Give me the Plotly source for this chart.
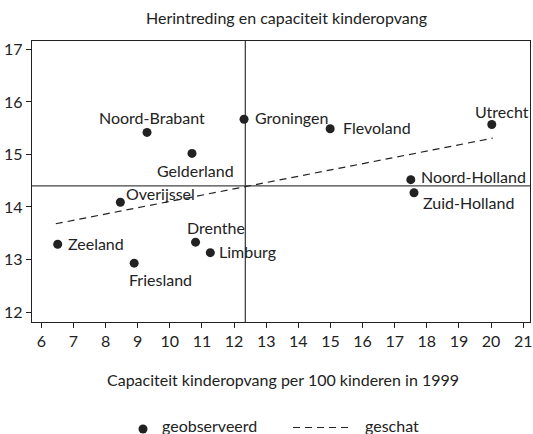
import plotly.graph_objects as go

# ---- data ----
provincies = ["Noord-Brabant", "Gelderland", "Groningen", "Flevoland", "Utrecht",
              "Noord-Holland", "Zuid-Holland", "Overijssel", "Zeeland", "Friesland",
              "Drenthe", "Limburg"]
capaciteit = [9.29, 10.69, 12.31, 14.99, 20.02, 17.50, 17.60, 8.46, 6.51, 8.89, 10.80, 11.26]
herintreding = [15.42, 15.02, 15.67, 15.49, 15.57, 14.52, 14.27, 14.09, 13.29, 12.93, 13.33, 13.13]

geschat_x = [6.45, 20.05]
geschat_y = [13.68, 15.31]

gemiddelde_x = 12.35
gemiddelde_y = 14.40

x_ticks = list(range(6, 22))
y_ticks = list(range(12, 18))

title_text = "Herintreding en capaciteit kinderopvang"
xaxis_text = "Capaciteit kinderopvang per 100 kinderen in 1999"
legend_names = ["geobserveerd", "geschat"]

# ---- label placement (style) ----
label_style = {
    "Noord-Brabant": ("center", 5, 15),
    "Gelderland": ("center", 3, -17),
    "Groningen": ("left", 9, 2),
    "Flevoland": ("left", 11, 1),
    "Utrecht": ("center", 10, 13),
    "Noord-Holland": ("left", 8, 3),
    "Zuid-Holland": ("left", 7, -10),
    "Overijssel": ("left", 4, 9),
    "Zeeland": ("left", 8, 1),
    "Friesland": ("left", -7, -16),
    "Drenthe": ("left", -11, 15),
    "Limburg": ("left", 7, 1),
}

FONT = "Lato"
INK = "#222222"
DASH = "7px,5px"
W, H = 533, 434
ML, MR, MT, MB = 32, 3, 41, 112
PW, PH = W - ML - MR, H - MT - MB


def px_to_paper(px, py):
    return (px - ML) / PW, (H - MB - py) / PH


fig = go.Figure()

fig.add_trace(go.Scatter(
    x=geschat_x, y=geschat_y, mode="lines", name=legend_names[1],
    line=dict(color=INK, width=1.2, dash=DASH), showlegend=False,
))
fig.add_trace(go.Scatter(
    x=capaciteit, y=herintreding, mode="markers", name=legend_names[0],
    marker=dict(color=INK, size=9), showlegend=False,
))

shapes = [
    dict(type="line", xref="paper", yref="y", x0=0, x1=1, y0=gemiddelde_y, y1=gemiddelde_y,
         line=dict(color="#444444", width=1.3), layer="below"),
    dict(type="line", xref="x", yref="paper", x0=gemiddelde_x, x1=gemiddelde_x, y0=0, y1=1,
         line=dict(color="#444444", width=1.3), layer="below"),
]

annotations = []
for name, xv, yv in zip(provincies, capaciteit, herintreding):
    anchor, dx, dy = label_style[name]
    annotations.append(dict(
        x=xv, y=yv, xref="x", yref="y", text=name, showarrow=False,
        xanchor=anchor, yanchor="middle", xshift=dx, yshift=dy,
        font=dict(family=FONT, size=16, color=INK),
    ))

ax_x, ax_y = px_to_paper(283, 379)
annotations.append(dict(
    x=ax_x, y=ax_y, xref="paper", yref="paper",
    text=xaxis_text, showarrow=False, xanchor="center", yanchor="middle",
    font=dict(family=FONT, size=16, color=INK),
))

# ---- manual legend (decoration) ----
cx0, cy0 = px_to_paper(143 - 4.5, 429 + 4.5)
cx1, cy1 = px_to_paper(143 + 4.5, 429 - 4.5)
shapes.append(dict(type="circle", xref="paper", yref="paper", x0=cx0, x1=cx1,
                   y0=cy0, y1=cy1, fillcolor=INK, line=dict(width=0)))
lx0, ly = px_to_paper(293, 427.5)
lx1, _ = px_to_paper(351, 427.5)
shapes.append(dict(type="line", xref="paper", yref="paper", x0=lx0, x1=lx1,
                   y0=ly, y1=ly, line=dict(color=INK, width=1.2, dash=DASH)))
t1x, t1y = px_to_paper(160, 425)
t2x, t2y = px_to_paper(363, 425)
annotations.append(dict(x=t1x, y=t1y, xref="paper", yref="paper", text=legend_names[0],
                        showarrow=False, xanchor="left", yanchor="middle",
                        font=dict(family=FONT, size=16, color=INK)))
annotations.append(dict(x=t2x, y=t2y, xref="paper", yref="paper", text=legend_names[1],
                        showarrow=False, xanchor="left", yanchor="middle",
                        font=dict(family=FONT, size=16, color=INK)))

fig.update_layout(
    width=W, height=H,
    margin=dict(l=ML, r=MR, t=MT, b=MB, autoexpand=False),
    paper_bgcolor="white", plot_bgcolor="white",
    font=dict(family=FONT, size=16, color=INK),
    title=dict(text=title_text, x=286.5 / W, xref="container", xanchor="center",
               y=1 - 18 / H, yref="container", yanchor="middle",
               font=dict(family=FONT, size=16, color=INK)),
    showlegend=False,
    annotations=annotations,
    shapes=shapes,
)

fig.update_xaxes(
    range=[5.71, 21.21], tickvals=x_ticks, ticktext=[str(t) for t in x_ticks],
    showgrid=False, zeroline=False, showline=True, mirror=True,
    linecolor=INK, linewidth=1.3, ticks="outside", ticklen=5, tickcolor=INK,
    tickwidth=1.3, tickfont=dict(family=FONT, size=16, color=INK),
)
fig.update_yaxes(
    range=[11.81, 17.16], tickvals=y_ticks, ticktext=[str(t) for t in y_ticks],
    showgrid=False, zeroline=False, showline=True, mirror=True,
    linecolor=INK, linewidth=1.3, ticks="outside", ticklen=5, tickcolor=INK,
    tickwidth=1.3, tickfont=dict(family=FONT, size=16, color=INK),
)

fig.write_html("out.html", config={"displayModeBar": False},
               post_script="document.body.style.margin='0px';document.body.style.padding='0px';")
